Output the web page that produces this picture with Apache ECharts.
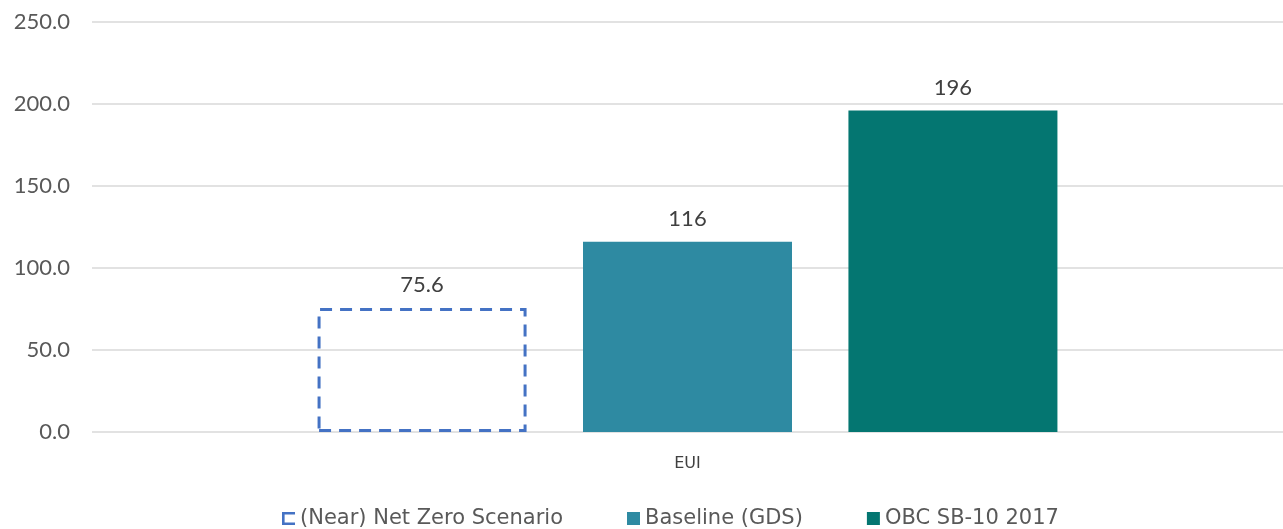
<!DOCTYPE html>
<html>
<head>
<meta charset="utf-8">
<script src="https://cdn.jsdelivr.net/npm/echarts@6/dist/echarts.min.js"></script>
<style>
html, body { margin: 0; padding: 0; background: #fff; }
#main { width: 1283px; height: 529px; }
</style>
</head>
<body>
<div id="main"></div>
<script>
const categories = ['EUI'];
const seriesNames = ['(Near) Net Zero Scenario', 'Baseline (GDS)', 'OBC SB-10 2017'];
const netZero = [75.6];
const baseline = [116];
const obc = [196];
const labelText = ['75.6', '116', '196'];

const numFont = '"Century Gothic", "Lato", sans-serif';
const textFont = '"Century Gothic", "DejaVu Sans", sans-serif';
const chart = echarts.init(document.getElementById('main'));

const barLabel = (i) => ({
	show: true,
	position: 'top',
	distance: 12,
	formatter: () => labelText[i],
	fontFamily: numFont,
	fontSize: 22,
	color: '#404040'
});

chart.setOption({
	animation: false,
	grid: {
		left: 92,
		right: 0,
		top: 22,
		bottom: 97,
		containLabel: false
	},
	legend: {
		top: 503,
		left: 277,
		itemWidth: 13,
		itemHeight: 13,
		itemGap: 64,
		textStyle: {
			fontFamily: textFont,
			fontSize: 21,
			color: '#595959'
		},
		data: [{
			name: seriesNames[0],
			icon: 'path://M0,0 L10,0 L10,2 L2,2 L2,8 L10,8 L10,10 L0,10 Z',
			itemStyle: { color: '#4472C4', borderWidth: 0 }
		}, {
			name: seriesNames[1],
			icon: 'rect'
		}, {
			name: seriesNames[2],
			icon: 'rect'
		}]
	},
	xAxis: {
		type: 'category',
		data: categories,
		axisLine: { show: false },
		axisTick: { show: false },
		axisLabel: {
			fontFamily: textFont,
			fontSize: 16,
			color: '#404040',
			margin: 24
		}
	},
	yAxis: {
		type: 'value',
		min: 0,
		max: 250,
		interval: 50,
		axisLine: { show: false },
		axisTick: { show: false },
		splitLine: { lineStyle: { color: '#d9d9d9', width: 1.5 } },
		axisLabel: {
			fontFamily: numFont,
			fontSize: 22,
			color: '#595959',
			margin: 22,
			formatter: v => v.toFixed(1)
		}
	},
	series: [{
		name: seriesNames[0],
		type: 'bar',
		data: netZero,
		barWidth: 209,
		barGap: '27%',
		barCategoryGap: '38%',
		itemStyle: {
			color: 'rgba(255,255,255,0)',
			borderColor: '#4472C4',
			borderWidth: 3,
			borderType: [12, 8]
		},
		label: barLabel(0)
	}, {
		name: seriesNames[1],
		type: 'bar',
		data: baseline,
		barWidth: 209,
		itemStyle: { color: '#2E8AA2' },
		label: barLabel(1)
	}, {
		name: seriesNames[2],
		type: 'bar',
		data: obc,
		barWidth: 209,
		itemStyle: { color: '#047671' },
		label: barLabel(2)
	}]
});
</script>
</body>
</html>
